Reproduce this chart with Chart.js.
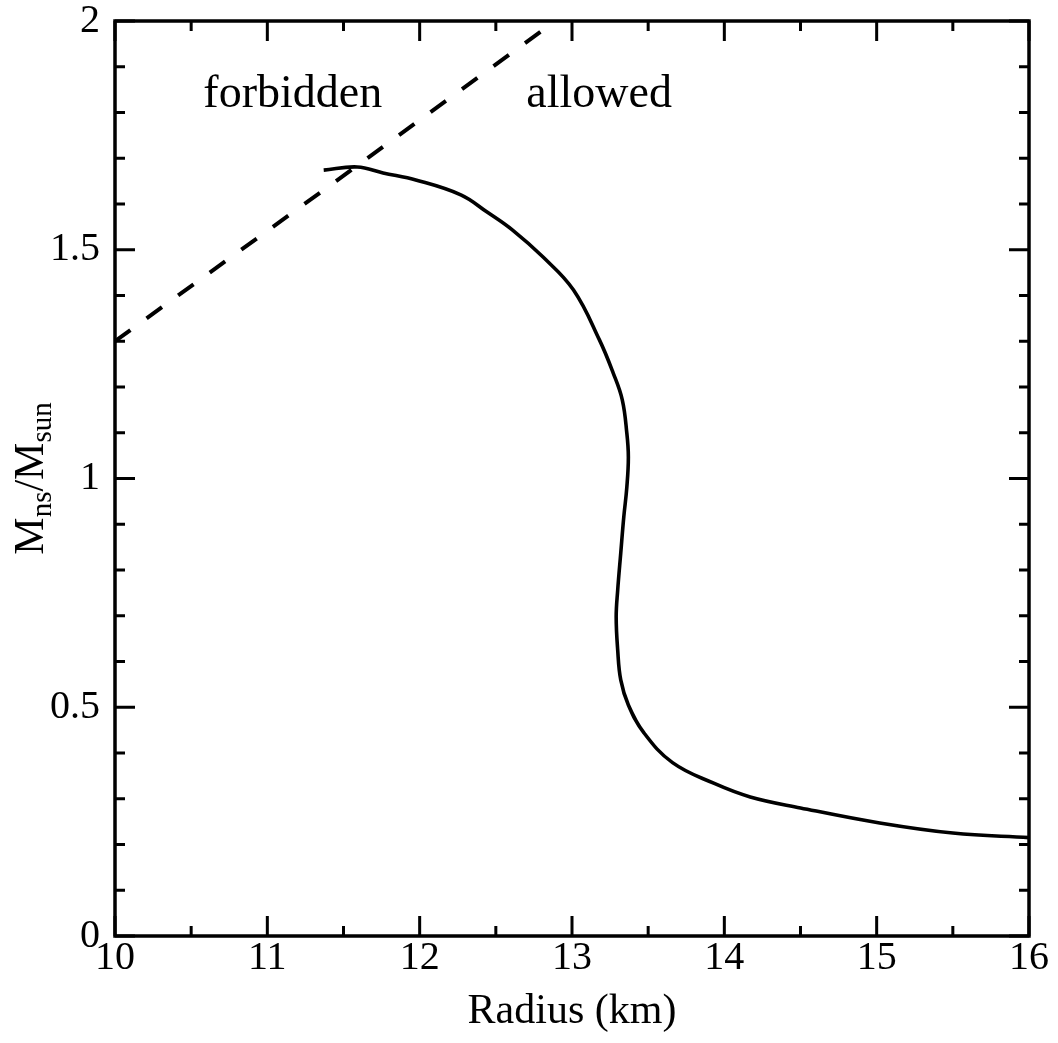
<!DOCTYPE html>
<html>
<head>
<meta charset="utf-8">
<script src="https://cdn.jsdelivr.net/npm/chart.js@4/dist/chart.umd.min.js"></script>
<style>
html, body { margin: 0; padding: 0; background: #fff; }
#wrap { width: 1058px; height: 1043px; }
</style>
</head>
<body>
<div id="wrap"><canvas id="mrChart"></canvas></div>
<script>
/* mass-radius curve */
const radiusKm = [11.37, 11.59, 11.76, 11.98, 12.27, 12.44, 12.61, 12.81, 13.01, 13.18,
                  13.27, 13.33, 13.36, 13.37, 13.36, 13.34, 13.32, 13.30, 13.29, 13.30,
                  13.32, 13.37, 13.47, 13.66, 13.93, 14.17, 14.50, 15.02, 15.50, 16.00];
const massRatio = [1.674, 1.681, 1.668, 1.652, 1.620, 1.583, 1.543, 1.484, 1.412, 1.303,
                   1.231, 1.172, 1.099, 1.047, 0.981, 0.916, 0.837, 0.756, 0.697, 0.625,
                   0.560, 0.505, 0.445, 0.379, 0.334, 0.304, 0.280, 0.247, 0.225, 0.215];

/* dashed limit line */
const limitRadius = [10, 11.43, 12.89];
const limitMass = [1.3, 1.645, 2.0];

/* region labels */
const regionText = ['forbidden', 'allowed'];
const regionR = [10.58, 12.70];
const regionM = [1.812, 1.812];

const xMin = 10, xMax = 16, xStep = 1, xMinor = 0.5;
const yMin = 0, yMax = 2, yStep = 0.5, yMinor = 0.1;

const SERIF = '"Liberation Serif", "Times New Roman", serif';

const toPts = (xs, ys) => xs.map((x, i) => ({ x: x, y: ys[i] }));

// frame + inward ticks on all four sides, region labels, y title with subscripts
const framePlugin = {
    id: 'frame',
    afterDatasetsDraw(chart) {
        const ctx = chart.ctx;
        const a = chart.chartArea;
        const xs = chart.scales.x, ys = chart.scales.y;
        ctx.save();
        ctx.strokeStyle = '#000';
        ctx.lineWidth = 3;
        ctx.lineCap = 'butt';
        ctx.beginPath();
        for (let v = xMin; v <= xMax + 1e-9; v += xMinor) {
            const px = xs.getPixelForValue(v);
            const len = Math.abs(v / xStep - Math.round(v / xStep)) < 1e-6 ? 20 : 10;
            ctx.moveTo(px, a.bottom); ctx.lineTo(px, a.bottom - len);
            ctx.moveTo(px, a.top); ctx.lineTo(px, a.top + len);
        }
        for (let v = yMin; v <= yMax + 1e-9; v += yMinor) {
            const py = ys.getPixelForValue(v);
            const len = Math.abs(v / yStep - Math.round(v / yStep)) < 1e-6 ? 20 : 10;
            ctx.moveTo(a.left, py); ctx.lineTo(a.left + len, py);
            ctx.moveTo(a.right, py); ctx.lineTo(a.right - len, py);
        }
        ctx.stroke();
        ctx.lineWidth = 3.5;
        ctx.strokeRect(a.left, a.top, a.right - a.left, a.bottom - a.top);

        // region labels
        ctx.fillStyle = '#000';
        ctx.font = '46px ' + SERIF;
        ctx.textAlign = 'left';
        ctx.textBaseline = 'alphabetic';
        regionText.forEach((t, i) => {
            ctx.fillText(t, xs.getPixelForValue(regionR[i]), ys.getPixelForValue(regionM[i]));
        });

        // y title: M_ns/M_sun
        const big = '42px ' + SERIF, small = '29px ' + SERIF;
        const parts = [['M', big, 0], ['ns', small, 8], ['/M', big, 0], ['sun', small, 8]];
        let total = 0;
        parts.forEach(p => { ctx.font = p[1]; total += ctx.measureText(p[0]).width; });
        ctx.translate(43, (a.top + a.bottom) / 2);
        ctx.rotate(-Math.PI / 2);
        let cx = -total / 2;
        parts.forEach(p => {
            ctx.font = p[1];
            ctx.fillText(p[0], cx, p[2]);
            cx += ctx.measureText(p[0]).width;
        });
        ctx.restore();
    }
};

new Chart(document.getElementById('mrChart'), {
    type: 'scatter',
    data: {
        datasets: [{
            data: toPts(radiusKm, massRatio),
            showLine: true,
            borderColor: '#000',
            borderWidth: 3.6,
            tension: 0.4,
            pointRadius: 0,
            fill: false
        }, {
            data: toPts(limitRadius, limitMass),
            showLine: true,
            borderColor: '#000',
            borderWidth: 4,
            borderDash: [19, 20],
            tension: 0,
            pointRadius: 0,
            fill: false
        }]
    },
    options: {
        responsive: true,
        maintainAspectRatio: false,
        animation: false,
        layout: { padding: { top: 21, right: 29, left: 0, bottom: 0 } },
        plugins: {
            legend: { display: false },
            tooltip: { enabled: false }
        },
        scales: {
            x: {
                type: 'linear',
                min: xMin, max: xMax,
                grid: { display: false, drawTicks: false },
                border: { display: false },
                ticks: {
                    stepSize: xStep,
                    color: '#000',
                    padding: 2,
                    font: { family: SERIF, size: 40, lineHeight: 1.0 }
                },
                title: {
                    display: true,
                    text: 'Radius (km)',
                    color: '#000',
                    padding: { top: 0, bottom: 6 },
                    font: { family: SERIF, size: 42, lineHeight: 1.2 }
                },
                afterFit: s => { s.height = 107; s.paddingLeft = 0; s.paddingRight = 0; }
            },
            y: {
                type: 'linear',
                min: yMin, max: yMax,
                grid: { display: false, drawTicks: false },
                border: { display: false },
                ticks: {
                    stepSize: yStep,
                    color: '#000',
                    padding: 15,
                    font: { family: SERIF, size: 40, lineHeight: 1.0 },
                    callback: v => String(+v.toFixed(1))
                },
                afterFit: s => { s.width = 115; s.paddingTop = 0; s.paddingBottom = 0; }
            }
        }
    },
    plugins: [framePlugin]
});
</script>
</body>
</html>
